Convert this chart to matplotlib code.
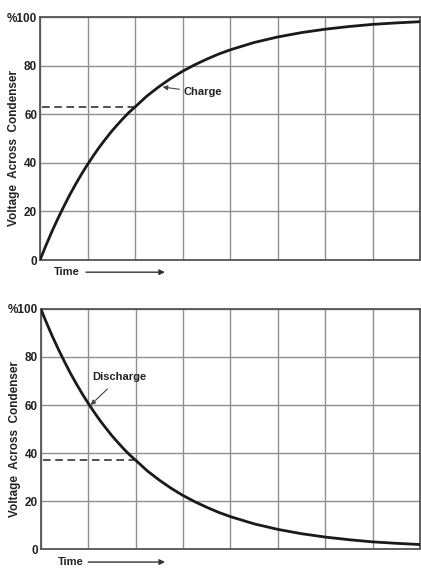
import matplotlib
matplotlib.use("Agg")
import matplotlib.pyplot as plt
from matplotlib import transforms

# ---- data (time in grid units, voltage in %) ----
time_units = [0, 0.125, 0.25, 0.375, 0.5, 0.625, 0.75, 0.875, 1.0, 1.125, 1.25,
              1.375, 1.5, 1.625, 1.75, 1.875, 2.0, 2.25, 2.5, 2.75, 3.0, 3.25,
              3.5, 3.75, 4.0, 4.5, 5.0, 5.5, 6.0, 6.5, 7.0, 7.5, 8.0]
charge_pct = [0, 6, 11.7, 17, 22, 26.8, 31.2, 35.4, 39.3, 43, 46.5,
              49.7, 52.8, 55.6, 58.3, 60.8, 63, 67.5, 71.3, 74.7, 77.7, 80.3,
              82.6, 84.7, 86.5, 89.5, 91.8, 93.6, 95, 96.1, 97, 97.6, 98.1]
discharge_pct = [100, 94, 88.3, 83, 78, 73.2, 68.8, 64.6, 60.7, 57, 53.5,
                 50.3, 47.2, 44.4, 41.7, 39.2, 37, 32.5, 28.7, 25.3, 22.3, 19.7,
                 17.4, 15.3, 13.5, 10.5, 8.2, 6.4, 5, 3.9, 3, 2.4, 1.9]
y_ticks = [0, 20, 40, 60, 80, 100]
y_ticklabels = ["0", "20", "40", "60", "80", "%100"]
x_grid = [0, 1, 2, 3, 4, 5, 6, 7, 8]
charge_mark = 63      # dashed reference level, charge
discharge_mark = 37   # dashed reference level, discharge
mark_time = 2

FONT = ["Liberation Sans", "DejaVu Sans"]
plt.rcParams["font.family"] = FONT

fig = plt.figure(figsize=(4.21, 5.69), dpi=100)
ax1 = fig.add_axes([0.095, 0.543, 0.903, 0.427])
ax2 = fig.add_axes([0.097, 0.035, 0.901, 0.422])

grid_col = "#8f8f8f"
for ax, curve, mark in [(ax1, charge_pct, charge_mark),
                        (ax2, discharge_pct, discharge_mark)]:
    ax.set_xlim(0, 8)
    ax.set_ylim(0, 100)
    ax.set_xticks(x_grid)
    ax.set_yticks(y_ticks)
    ax.set_xticklabels([])
    ax.set_yticklabels(y_ticklabels, fontsize=8.5, fontweight="bold", color="#222222")
    ax.tick_params(length=0, pad=2)
    ax.grid(True, color=grid_col, lw=1.0)
    for s in ax.spines.values():
        s.set_color("#555555")
        s.set_linewidth(1.3)
    ax.plot(time_units, curve, color="#1a1a1a", lw=2.0, zorder=3,
            solid_joinstyle="round")
    ax.plot([0.05, mark_time], [mark, mark], color="#222222", lw=1.1,
            ls=(0, (5, 3)), zorder=3)
    ax.set_ylabel("Voltage  Across  Condenser", fontsize=8.5, fontweight="bold",
                  color="#222222", labelpad=5)
    ax.yaxis.set_label_coords(-0.052, 0.46)

# curve labels with arrows
ax1.annotate("Charge", xy=(2.58, 71.2), xytext=(3.02, 69.0), fontsize=8,
             fontweight="bold", color="#222222", va="center", ha="left",
             arrowprops=dict(arrowstyle="-|>", color="#444444", lw=0.8,
                             mutation_scale=7, shrinkA=1, shrinkB=0))
ax2.annotate("Discharge", xy=(1.05, 60.0), xytext=(1.66, 71.5), fontsize=8,
             fontweight="bold", color="#222222", va="center", ha="center",
             arrowprops=dict(arrowstyle="-|>", color="#444444", lw=0.8,
                             mutation_scale=7, shrinkA=4, shrinkB=0))

# "Time ---->" under each axis
for ax, tx, y, a0, a1 in [(ax1, 0.57, -0.05, 0.97, 2.63), (ax2, 0.63, -0.054, 1.0, 2.62)]:
    tr = transforms.blended_transform_factory(ax.transData, ax.transAxes)
    ax.text(tx, y, "Time", transform=tr, ha="center", va="center", fontsize=8,
            fontweight="bold", color="#222222", clip_on=False)
    ax.annotate("", xy=(a1, y), xytext=(a0, y), xycoords=tr, textcoords=tr,
                annotation_clip=False,
                arrowprops=dict(arrowstyle="-|>", color="#333333", lw=1.0,
                                mutation_scale=8, shrinkA=0, shrinkB=0))

fig.savefig("out.png", dpi=100, facecolor="white")
